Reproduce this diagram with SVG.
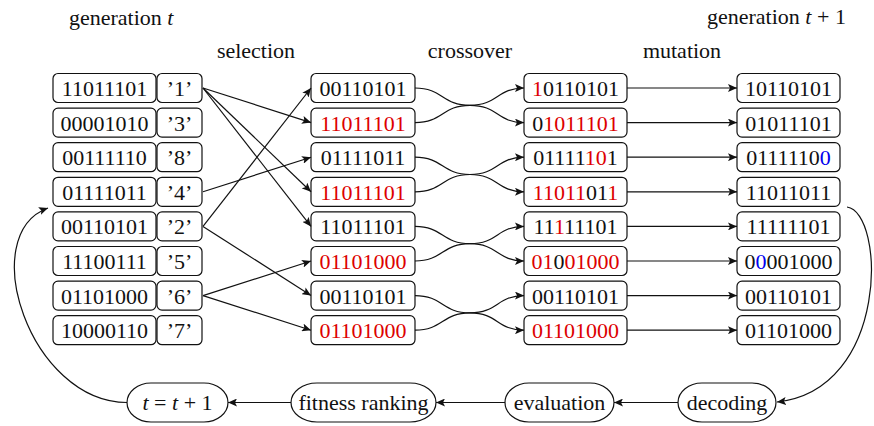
<svg xmlns="http://www.w3.org/2000/svg" width="874" height="426" viewBox="0 0 874 426">
  <style>
    text { font-family: "Liberation Serif", serif; font-size: 22px; fill: #111; }
    .mid { text-anchor: middle; }
    .box { fill: #fff; stroke: #111; stroke-width: 1.2; }
    .oval { fill: #fff; stroke: #111; stroke-width: 1.2; }
    .edge { fill: none; stroke: #111; stroke-width: 1.2; }
    .r { fill: #dd0000; }
    .b { fill: #0000ee; }
    .i { font-style: italic; }
  </style>
  <defs>
    <marker id="arrow" markerUnits="userSpaceOnUse" markerWidth="10" markerHeight="8" refX="9" refY="4" orient="auto">
      <path d="M0,0 L9,4 L0,8 L2,4 z" fill="#111"/>
    </marker>
  </defs>

  <!-- headings -->
  <g id="headings">
    <text x="69" y="25">generation <tspan class="i">t</tspan></text>
    <text x="256" y="58" class="mid">selection</text>
    <text x="470" y="58" class="mid">crossover</text>
    <text x="682" y="58" class="mid">mutation</text>
    <text x="707" y="24">generation <tspan class="i">t</tspan> + 1</text>
  </g>

  <!-- generation t: chromosomes with their fitness rank -->
  <g id="gen-t">
    <g id="p0"><rect class="box" x="53" y="73.5" width="103" height="29" rx="5"/><rect class="box" x="157" y="73.5" width="45" height="29" rx="5"/><text x="104.5" y="96" class="mid">11011101</text><text x="179.5" y="96" class="mid">’1’</text></g>
    <g id="p1"><rect class="box" x="53" y="108.1" width="103" height="29" rx="5"/><rect class="box" x="157" y="108.1" width="45" height="29" rx="5"/><text x="104.5" y="130.6" class="mid">00001010</text><text x="179.5" y="130.6" class="mid">’3’</text></g>
    <g id="p2"><rect class="box" x="53" y="142.7" width="103" height="29" rx="5"/><rect class="box" x="157" y="142.7" width="45" height="29" rx="5"/><text x="104.5" y="165.2" class="mid">00111110</text><text x="179.5" y="165.2" class="mid">’8’</text></g>
    <g id="p3"><rect class="box" x="53" y="177.3" width="103" height="29" rx="5"/><rect class="box" x="157" y="177.3" width="45" height="29" rx="5"/><text x="104.5" y="199.8" class="mid">01111011</text><text x="179.5" y="199.8" class="mid">’4’</text></g>
    <g id="p4"><rect class="box" x="53" y="211.9" width="103" height="29" rx="5"/><rect class="box" x="157" y="211.9" width="45" height="29" rx="5"/><text x="104.5" y="234.4" class="mid">00110101</text><text x="179.5" y="234.4" class="mid">’2’</text></g>
    <g id="p5"><rect class="box" x="53" y="246.5" width="103" height="29" rx="5"/><rect class="box" x="157" y="246.5" width="45" height="29" rx="5"/><text x="104.5" y="269" class="mid">11100111</text><text x="179.5" y="269" class="mid">’5’</text></g>
    <g id="p6"><rect class="box" x="53" y="281.1" width="103" height="29" rx="5"/><rect class="box" x="157" y="281.1" width="45" height="29" rx="5"/><text x="104.5" y="303.6" class="mid">01101000</text><text x="179.5" y="303.6" class="mid">’6’</text></g>
    <g id="p7"><rect class="box" x="53" y="315.7" width="103" height="29" rx="5"/><rect class="box" x="157" y="315.7" width="45" height="29" rx="5"/><text x="104.5" y="338.2" class="mid">10000110</text><text x="179.5" y="338.2" class="mid">’7’</text></g>
  </g>

  <!-- selected parents -->
  <g id="selected">
    <g id="s0"><rect class="box" x="311" y="73.5" width="104" height="29" rx="5"/><text x="363" y="96" class="mid">00110101</text></g>
    <g id="s1"><rect class="box" x="311" y="108.1" width="104" height="29" rx="5"/><text x="363" y="130.6" class="mid r">11011101</text></g>
    <g id="s2"><rect class="box" x="311" y="142.7" width="104" height="29" rx="5"/><text x="363" y="165.2" class="mid">01111011</text></g>
    <g id="s3"><rect class="box" x="311" y="177.3" width="104" height="29" rx="5"/><text x="363" y="199.8" class="mid r">11011101</text></g>
    <g id="s4"><rect class="box" x="311" y="211.9" width="104" height="29" rx="5"/><text x="363" y="234.4" class="mid">11011101</text></g>
    <g id="s5"><rect class="box" x="311" y="246.5" width="104" height="29" rx="5"/><text x="363" y="269" class="mid r">01101000</text></g>
    <g id="s6"><rect class="box" x="311" y="281.1" width="104" height="29" rx="5"/><text x="363" y="303.6" class="mid">00110101</text></g>
    <g id="s7"><rect class="box" x="311" y="315.7" width="104" height="29" rx="5"/><text x="363" y="338.2" class="mid r">01101000</text></g>
  </g>

  <!-- offspring after crossover -->
  <g id="crossed">
    <g id="c0"><rect class="box" x="524" y="73.5" width="103" height="29" rx="5"/><text x="575.5" y="96" class="mid"><tspan class="r">1</tspan>0110101</text></g>
    <g id="c1"><rect class="box" x="524" y="108.1" width="103" height="29" rx="5"/><text x="575.5" y="130.6" class="mid">0<tspan class="r">1011101</tspan></text></g>
    <g id="c2"><rect class="box" x="524" y="142.7" width="103" height="29" rx="5"/><text x="575.5" y="165.2" class="mid">01111<tspan class="r">10</tspan>1</text></g>
    <g id="c3"><rect class="box" x="524" y="177.3" width="103" height="29" rx="5"/><text x="575.5" y="199.8" class="mid"><tspan class="r">11011</tspan>01<tspan class="r">1</tspan></text></g>
    <g id="c4"><rect class="box" x="524" y="211.9" width="103" height="29" rx="5"/><text x="575.5" y="234.4" class="mid">11<tspan class="r">1</tspan>11101</text></g>
    <g id="c5"><rect class="box" x="524" y="246.5" width="103" height="29" rx="5"/><text x="575.5" y="269" class="mid"><tspan class="r">01</tspan>0<tspan class="r">01000</tspan></text></g>
    <g id="c6"><rect class="box" x="524" y="281.1" width="103" height="29" rx="5"/><text x="575.5" y="303.6" class="mid">00110101</text></g>
    <g id="c7"><rect class="box" x="524" y="315.7" width="103" height="29" rx="5"/><text x="575.5" y="338.2" class="mid r">01101000</text></g>
  </g>

  <!-- generation t+1 after mutation -->
  <g id="gen-t1">
    <g id="m0"><rect class="box" x="737" y="73.5" width="103" height="29" rx="5"/><text x="788.5" y="96" class="mid">10110101</text></g>
    <g id="m1"><rect class="box" x="737" y="108.1" width="103" height="29" rx="5"/><text x="788.5" y="130.6" class="mid">01011101</text></g>
    <g id="m2"><rect class="box" x="737" y="142.7" width="103" height="29" rx="5"/><text x="788.5" y="165.2" class="mid">0111110<tspan class="b">0</tspan></text></g>
    <g id="m3"><rect class="box" x="737" y="177.3" width="103" height="29" rx="5"/><text x="788.5" y="199.8" class="mid">11011011</text></g>
    <g id="m4"><rect class="box" x="737" y="211.9" width="103" height="29" rx="5"/><text x="788.5" y="234.4" class="mid">11111101</text></g>
    <g id="m5"><rect class="box" x="737" y="246.5" width="103" height="29" rx="5"/><text x="788.5" y="269" class="mid">0<tspan class="b">0</tspan>001000</text></g>
    <g id="m6"><rect class="box" x="737" y="281.1" width="103" height="29" rx="5"/><text x="788.5" y="303.6" class="mid">00110101</text></g>
    <g id="m7"><rect class="box" x="737" y="315.7" width="103" height="29" rx="5"/><text x="788.5" y="338.2" class="mid">01101000</text></g>
  </g>

  <!-- loop stages -->
  <g id="step-t"><rect class="oval" x="127" y="383" width="101" height="39" rx="24" ry="19.5"/><text x="177.5" y="410" class="mid"><tspan class="i">t</tspan> = <tspan class="i">t</tspan> + 1</text></g>
  <g id="fitness"><rect class="oval" x="291" y="383" width="145" height="39" rx="26" ry="19.5"/><text x="363.5" y="410" class="mid">fitness ranking</text></g>
  <g id="evaluation"><rect class="oval" x="505" y="383" width="109" height="39" rx="24" ry="19.5"/><text x="559.5" y="410" class="mid">evaluation</text></g>
  <g id="decoding"><rect class="oval" x="678" y="383" width="98" height="39" rx="24" ry="19.5"/><text x="727" y="410" class="mid">decoding</text></g>

  <!-- connectors -->
  <g id="connectors">
    <!-- selection -->
    <path class="edge" marker-end="url(#arrow)" d="M203,88 L311,122.6"/>
    <path class="edge" marker-end="url(#arrow)" d="M203,88 L311,191.8"/>
    <path class="edge" marker-end="url(#arrow)" d="M203,88 L311,226.4"/>
    <path class="edge" marker-end="url(#arrow)" d="M203,191.8 L311,157.2"/>
    <path class="edge" marker-end="url(#arrow)" d="M203,226.4 L311,88"/>
    <path class="edge" marker-end="url(#arrow)" d="M203,226.4 L311,295.6"/>
    <path class="edge" marker-end="url(#arrow)" d="M203,295.6 L311,261"/>
    <path class="edge" marker-end="url(#arrow)" d="M203,295.6 L311,330.2"/>
    <!-- crossover -->
    <path class="edge" marker-end="url(#arrow)" d="M415,88 C443,88 442,105.3 470,105.3 C498,105.3 497,122.6 524,122.6"/>
    <path class="edge" marker-end="url(#arrow)" d="M415,122.6 C443,122.6 442,105.3 470,105.3 C498,105.3 497,88 524,88"/>
    <path class="edge" marker-end="url(#arrow)" d="M415,157.2 C443,157.2 442,174.5 470,174.5 C498,174.5 497,191.8 524,191.8"/>
    <path class="edge" marker-end="url(#arrow)" d="M415,191.8 C443,191.8 442,174.5 470,174.5 C498,174.5 497,157.2 524,157.2"/>
    <path class="edge" marker-end="url(#arrow)" d="M415,226.4 C443,226.4 442,243.7 470,243.7 C498,243.7 497,261 524,261"/>
    <path class="edge" marker-end="url(#arrow)" d="M415,261 C443,261 442,243.7 470,243.7 C498,243.7 497,226.4 524,226.4"/>
    <path class="edge" marker-end="url(#arrow)" d="M415,295.6 C443,295.6 442,312.9 470,312.9 C498,312.9 497,330.2 524,330.2"/>
    <path class="edge" marker-end="url(#arrow)" d="M415,330.2 C443,330.2 442,312.9 470,312.9 C498,312.9 497,295.6 524,295.6"/>
    <!-- mutation -->
    <path class="edge" marker-end="url(#arrow)" d="M627,88 L737,88"/>
    <path class="edge" marker-end="url(#arrow)" d="M627,122.6 L737,122.6"/>
    <path class="edge" marker-end="url(#arrow)" d="M627,157.2 L737,157.2"/>
    <path class="edge" marker-end="url(#arrow)" d="M627,191.8 L737,191.8"/>
    <path class="edge" marker-end="url(#arrow)" d="M627,226.4 L737,226.4"/>
    <path class="edge" marker-end="url(#arrow)" d="M627,261 L737,261"/>
    <path class="edge" marker-end="url(#arrow)" d="M627,295.6 L737,295.6"/>
    <path class="edge" marker-end="url(#arrow)" d="M627,330.2 L737,330.2"/>
    <!-- evaluation loop -->
    <path class="edge" marker-end="url(#arrow)" d="M847,207 C885,212 890,390 777,402"/>
    <path class="edge" marker-end="url(#arrow)" d="M678,402.5 L614,402.5"/>
    <path class="edge" marker-end="url(#arrow)" d="M505,402.5 L436,402.5"/>
    <path class="edge" marker-end="url(#arrow)" d="M291,402.5 L228,402.5"/>
    <path class="edge" marker-end="url(#arrow)" d="M127,402.5 C30,402 -25,235 48,208"/>
  </g>
</svg>
